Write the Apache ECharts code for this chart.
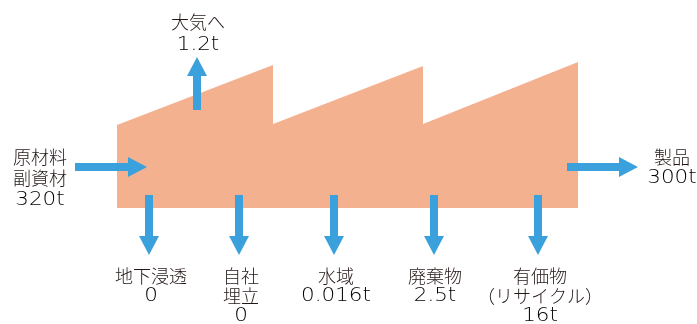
<!DOCTYPE html>
<html>
<head>
<meta charset="utf-8">
<script src="https://cdn.jsdelivr.net/npm/echarts@6/dist/echarts.min.js"></script>
<style>
html, body { margin: 0; padding: 0; background: #fff; }
#main { width: 697px; height: 324px; }
</style>
</head>
<body>
<div id="main"></div>
<script>
// flows (text content)
const inputNames = ['原材料', '副資材']
const inputValue = '320t'
const airName = ['大気へ']
const airValue = '1.2t'
const productName = ['製品']
const productValue = '300t'
const releaseNames = [['地下浸透'], ['自社', '埋立'], ['水域'], ['廃棄物'], ['有価物', '（リサイクル）']]
const releaseValues = ['0', '0', '0.016t', '2.5t', '16t']

// layout, in picture units
const factoryOutline = [[117, 208], [117, 125], [273, 65], [273, 124], [423, 66], [423, 124], [578, 62], [578, 208]]
const releaseX = [149, 239, 334, 434, 538]
const releaseTextX = [151, 241, 336, 435, 540]

const BLUE = '#3ba1dc'
const FACTORY = '#f4b190'
const TEXT = '#231815'
const CJK = "'Noto Sans CJK JP', sans-serif"
const DIGITS = "'DejaVu Sans', sans-serif"

const arrows = [
    [75, 167, 147, 167],
    [197, 110, 197, 57],
    [567, 167, 638, 167]
].concat(releaseX.map(x => [x, 195, x, 255]))

// one entry per text line: [x, centre y, kind (0 name, 1 value)], texts alongside
const labelPos = []
const labelText = []
function addBlock(x, y0, lh, names, value) {
    names.forEach((n, i) => { labelPos.push([x, y0 + i * lh, 0]); labelText.push(n) })
    labelPos.push([x, y0 + names.length * lh, 1]); labelText.push(value)
}
addBlock(40, 157, 21.5, inputNames, inputValue)
addBlock(198, 22.5, 22.5, airName, airValue)
addBlock(672, 157, 21, productName, productValue)
releaseNames.forEach((names, i) => addBlock(releaseTextX[i], 276, 20, names, releaseValues[i]))

const chart = echarts.init(document.getElementById('main'))

chart.setOption({
    animation: false,
    grid: { left: 0, right: 0, top: 0, bottom: 0 },
    xAxis: { type: 'value', min: 0, max: 697, show: false },
    yAxis: { type: 'value', min: 0, max: 324, inverse: true, show: false },
    series: [
        {
            type: 'custom',
            data: [[0]],
            renderItem: (params, api) => ({
                type: 'polygon',
                shape: { points: factoryOutline.map(p => api.coord(p)) },
                style: { fill: FACTORY }
            })
        },
        {
            type: 'custom',
            data: arrows,
            renderItem: (params, api) => {
                const a = api.coord([api.value(0), api.value(1)])
                const b = api.coord([api.value(2), api.value(3)])
                const len = Math.hypot(b[0] - a[0], b[1] - a[1])
                const dx = (b[0] - a[0]) / len
                const dy = (b[1] - a[1]) / len
                const nx = -dy, ny = dx
                const headLen = 19, headW = 10, shaftW = 4
                const bx = b[0] - dx * headLen, by = b[1] - dy * headLen
                return {
                    type: 'polygon',
                    shape: {
                        points: [
                            [a[0] + nx * shaftW, a[1] + ny * shaftW],
                            [bx + nx * shaftW, by + ny * shaftW],
                            [bx + nx * headW, by + ny * headW],
                            b,
                            [bx - nx * headW, by - ny * headW],
                            [bx - nx * shaftW, by - ny * shaftW],
                            [a[0] - nx * shaftW, a[1] - ny * shaftW]
                        ]
                    },
                    style: { fill: BLUE }
                }
            }
        },
        {
            type: 'custom',
            data: labelPos,
            renderItem: (params, api) => {
                const p = api.coord([api.value(0), api.value(1)])
                const isValue = api.value(2) === 1
                return {
                    type: 'text',
                    x: p[0],
                    y: p[1],
                    scaleX: isValue ? 1.13 : 1,
                    style: {
                        text: labelText[params.dataIndex],
                        fill: isValue ? '#000' : TEXT,
                        fontSize: isValue ? 19 : 18,
                        fontWeight: isValue ? 200 : 300,
                        fontFamily: isValue ? DIGITS : CJK,
                        align: 'center',
                        verticalAlign: 'middle'
                    }
                }
            }
        }
    ]
})
</script>
</body>
</html>
